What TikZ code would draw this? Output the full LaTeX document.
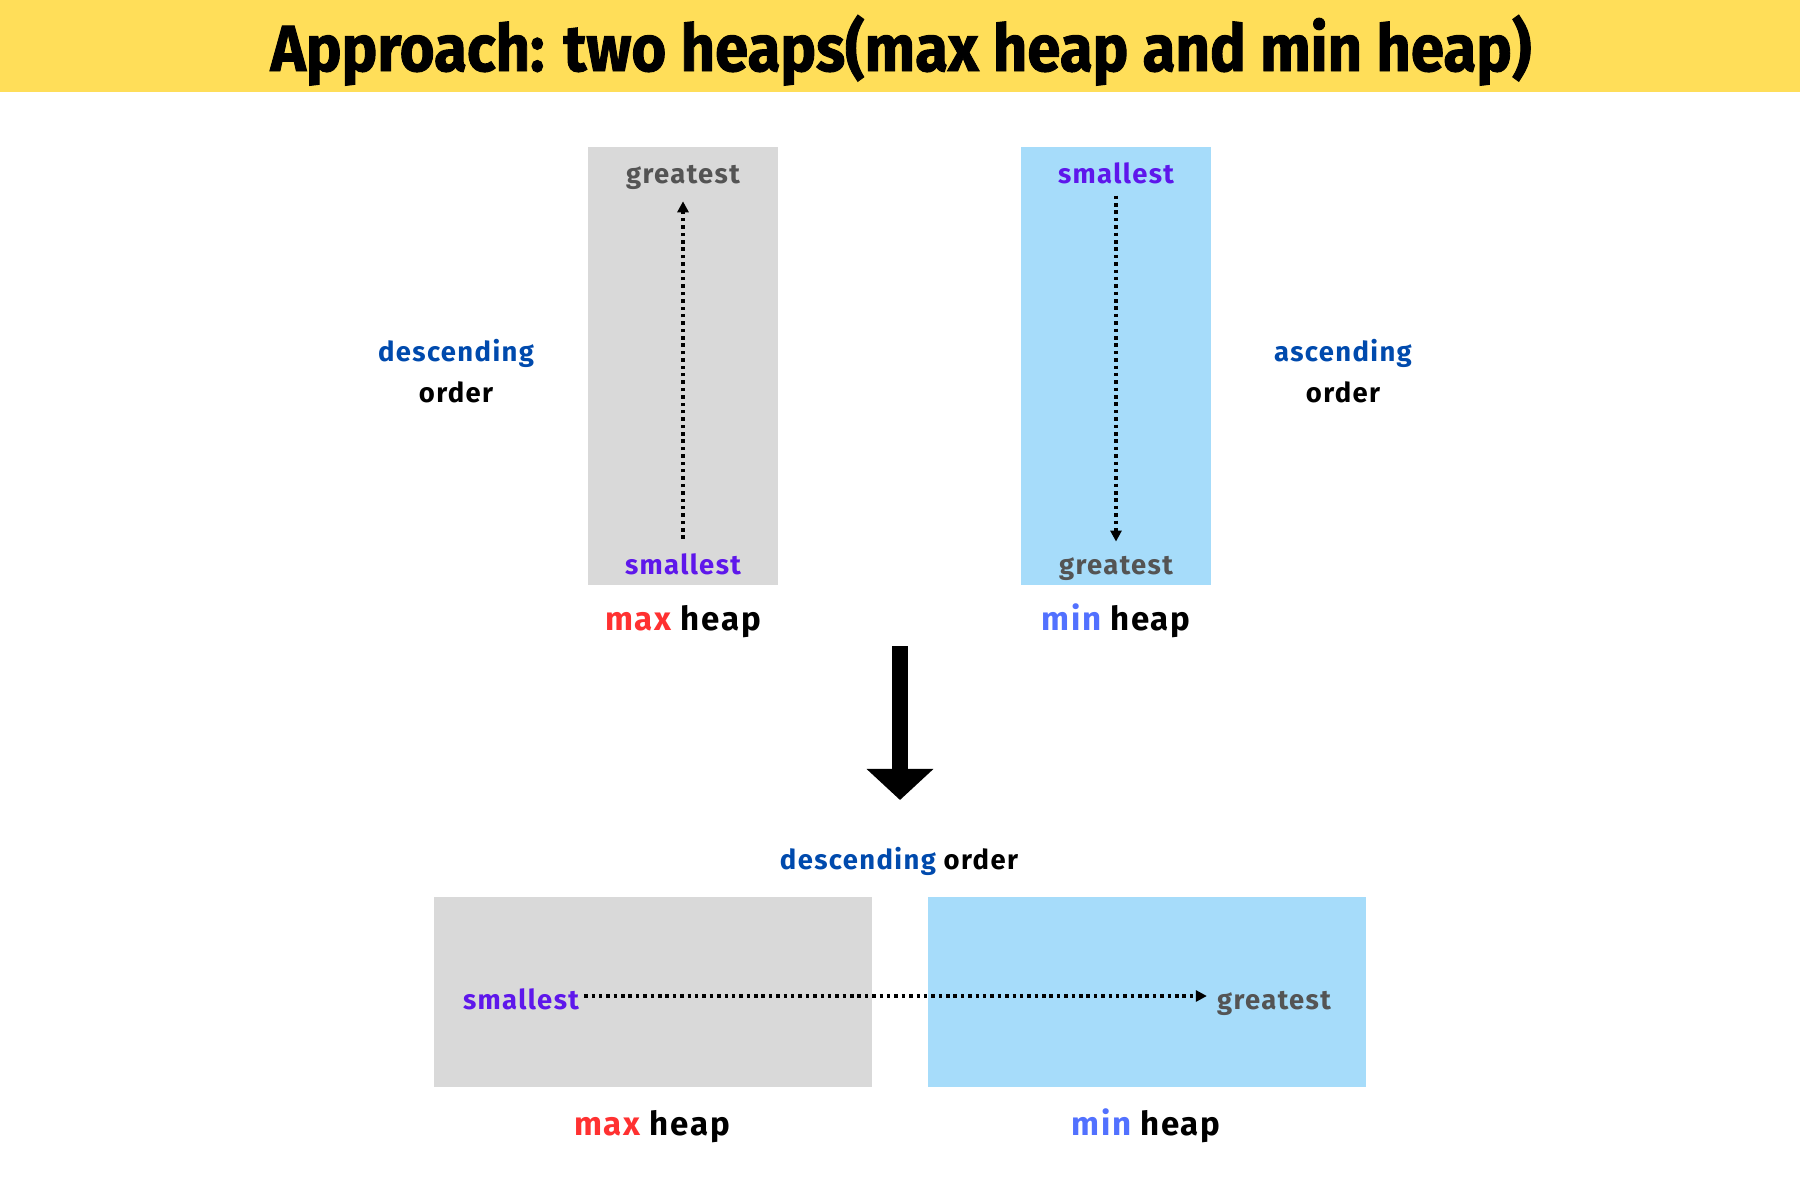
\documentclass[tikz,border=0pt]{standalone}
\usepackage{fontspec}
\setmainfont{Fira Sans}
\newfontfamily\titlefont[FakeBold=1.5]{Fira Sans}
\newfontfamily\lblfont[LetterSpace=5]{Fira Sans}
\usetikzlibrary{arrows.meta}
\definecolor{bandyellow}{HTML}{FFDE59}
\definecolor{maxgray}{HTML}{D9D9D9}
\definecolor{minblue}{HTML}{A6DCFA}
\definecolor{greatgray}{HTML}{545454}
\definecolor{smallpurple}{HTML}{5E17EB}
\definecolor{maxred}{HTML}{FF3131}
\definecolor{minword}{HTML}{5271FF}
\definecolor{orderblue}{HTML}{004AAD}
\tikzset{
  heapbox/.style={draw=none, rectangle, inner sep=0pt},
  lbl/.style={font=\lblfont\bfseries\fontsize{7.8}{11.4}\selectfont, inner sep=1pt, align=center, anchor=base},
  heapcap/.style={font=\lblfont\bfseries\fontsize{9.4}{11}\selectfont, inner sep=1pt, anchor=base},
  dotarr/.style={-{Triangle[length=1.1mm,width=1.1mm]}, line width=1pt, dash pattern=on 1pt off 1.1pt},
  bigarr/.style={-{Triangle[length=0.31cm,width=0.65cm]}, line width=0.16cm},
}
\begin{document}
\begin{tikzpicture}[x=0.01cm, y=-0.01cm]
\useasboundingbox (0,0) rectangle (1800,1200);
% title band
\fill[bandyellow] (0,0) rectangle (1800,92);
\node[anchor=base, inner sep=0pt] (title) at (901,71) {\resizebox{12.6cm}{0.56cm}{\titlefont\bfseries Approach: two heaps(max heap and min heap)}};

% upper heaps, stood on end
\node[heapbox, fill=maxgray, minimum width=1.9cm, minimum height=4.38cm] (maxv) at (683,366) {};
\node[heapbox, fill=minblue, minimum width=1.89cm, minimum height=4.38cm] (minv) at (1116,366) {};
\node[lbl, text=greatgray] (maxvtop) at (683,183) {greatest};
\node[lbl, text=smallpurple] (maxvbot) at (683,574) {smallest};
\node[lbl, text=smallpurple] (minvtop) at (1116,183) {smallest};
\node[lbl, text=greatgray] (minvbot) at (1116,574) {greatest};
\draw[dotarr, shorten <=1mm, shorten >=0.8mm] (maxvbot) -- (maxvtop);
\draw[dotarr, shorten <=0.8mm, shorten >=1mm] (minvtop) -- (minvbot);
\node[heapcap] (maxvcap) at (683,630) {\textcolor{maxred}{max} heap};
\node[heapcap] (minvcap) at (1116,630) {\textcolor{minword}{min} heap};
\node[lbl] (maxord) at (456,402) {\textcolor{orderblue}{descending}\\order};
\node[lbl] (minord) at (1343,402) {\textcolor{orderblue}{ascending}\\order};

% merge arrow
\coordinate (bigtop) at (900,646);
\coordinate (bigtip) at (900,800);
\draw[bigarr] (bigtop) -- (bigtip);
\node[lbl] (order) at (899,869) {\textcolor{orderblue}{descending} order};

% lower heaps, side by side
\node[heapbox, fill=maxgray, minimum width=4.38cm, minimum height=1.89cm] (maxh) at (653,992) {};
\node[heapbox, fill=minblue, minimum width=4.38cm, minimum height=1.89cm] (minh) at (1147,992) {};
\node[lbl, text=smallpurple] (maxhend) at (521,1009) {smallest};
\node[lbl, text=greatgray] (minhend) at (1274,1009) {greatest};
\draw[dotarr, shorten <=0.1mm, shorten >=0.6mm] (maxhend.east |- 0,996) -- (minhend.west |- 0,996);
\node[heapcap] (maxhcap) at (652,1135) {\textcolor{maxred}{max} heap};
\node[heapcap] (minhcap) at (1146,1135) {\textcolor{minword}{min} heap};
\end{tikzpicture}
\end{document}
